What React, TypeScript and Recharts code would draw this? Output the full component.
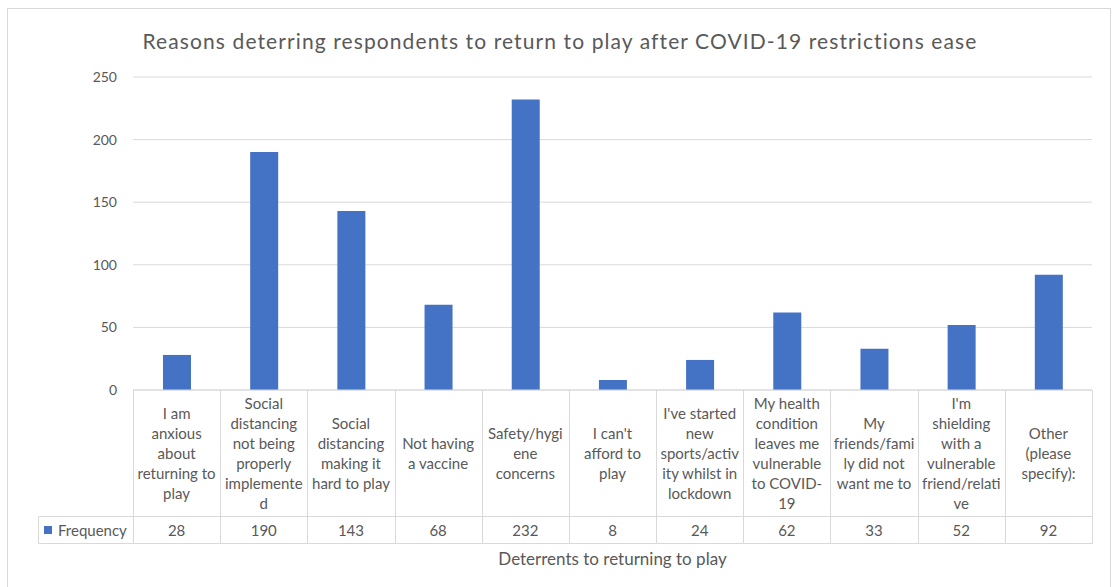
import React from "react";
import { BarChart, Bar, XAxis, YAxis, CartesianGrid, Customized } from "recharts";

const categories = [
  "I am anxious about returning to play",
  "Social distancing not being properly implemented",
  "Social distancing making it hard to play",
  "Not having a vaccine",
  "Safety/hygiene concerns",
  "I can't afford to play",
  "I've started new sports/activity whilst in lockdown",
  "My health condition leaves me vulnerable to COVID-19",
  "My friends/family did not want me to",
  "I'm shielding with a vulnerable friend/relative",
  "Other (please specify):",
];

const frequency = [28, 190, 143, 68, 232, 8, 24, 62, 33, 52, 92];

const labelLines = [
  ["I am", "anxious", "about", "returning to", "play"],
  ["Social", "distancing", "not being", "properly", "implemente", "d"],
  ["Social", "distancing", "making it", "hard to play"],
  ["Not having", "a vaccine"],
  ["Safety/hygi", "ene", "concerns"],
  ["I can't", "afford to", "play"],
  ["I've started", "new", "sports/activ", "ity whilst in", "lockdown"],
  ["My health", "condition", "leaves me", "vulnerable", "to COVID-", "19"],
  ["My", "friends/fami", "ly did not", "want me to"],
  ["I'm", "shielding", "with a", "vulnerable", "friend/relati", "ve"],
  ["Other", "(please", "specify):"],
];

const yTicks = [0, 50, 100, 150, 200, 250];

const seriesName = "Frequency";
const chartTitle = "Reasons deterring respondents to return to play after COVID-19 restrictions ease";
const xAxisTitle = "Deterrents to returning to play";

const data = categories.map((c, i) => ({ name: c, value: frequency[i] }));

const W = 1114;
const H = 587;
const PLOT_LEFT = 133;
const PLOT_RIGHT = 1092;
const PLOT_TOP = 77;
const PLOT_BOTTOM = 390;
const BAND = (PLOT_RIGHT - PLOT_LEFT) / categories.length;
const ROW_MID = 516.5;
const ROW_BOTTOM = 543.5;
const LEGEND_LEFT = 38.5;
const LINE = "#d9d9d9";
const TEXT = "#595959";
const FONT = "Lato, 'Open Sans', sans-serif";
const BLUE = "#4472c4";
const CELL_FS = 15;

const CategoryTick = (props: any) => {
  const { x, payload } = props;
  const i = payload.index;
  const left = Math.round(x - BAND / 2) + 0.5;
  const right = Math.round(x + BAND / 2) + 0.5;
  const lines = labelLines[i];
  const lh = 20;
  const cy = 453;
  const startY = cy - ((lines.length - 1) * lh) / 2;
  return (
    <g>
      <line x1={left} y1={PLOT_BOTTOM} x2={left} y2={ROW_BOTTOM} stroke={LINE} />
      {i === categories.length - 1 && (
        <line x1={right} y1={PLOT_BOTTOM} x2={right} y2={ROW_BOTTOM} stroke={LINE} />
      )}
      <line x1={left} y1={ROW_MID} x2={right} y2={ROW_MID} stroke={LINE} />
      <line x1={left} y1={ROW_BOTTOM} x2={right} y2={ROW_BOTTOM} stroke={LINE} />
      {lines.map((t, k) => (
        <text
          key={k}
          x={x}
          y={startY + k * lh}
          textAnchor="middle"
          dominantBaseline="central"
          fill={TEXT}
          fontSize={CELL_FS}
          fontFamily={FONT}
        >
          {t}
        </text>
      ))}
      <text
        x={x}
        y={530}
        textAnchor="middle"
        dominantBaseline="central"
        fill={TEXT}
        fontSize={CELL_FS}
        fontFamily={FONT}
      >
        {frequency[i]}
      </text>
      {i === 0 && (
        <g>
          <line x1={LEGEND_LEFT} y1={ROW_MID} x2={left} y2={ROW_MID} stroke={LINE} />
          <line x1={LEGEND_LEFT} y1={ROW_BOTTOM} x2={left} y2={ROW_BOTTOM} stroke={LINE} />
          <line x1={LEGEND_LEFT} y1={ROW_MID} x2={LEGEND_LEFT} y2={ROW_BOTTOM} stroke={LINE} />
          <rect x={44} y={526} width={8} height={8} fill={BLUE} />
          <text
            x={58}
            y={530}
            dominantBaseline="central"
            fill={TEXT}
            fontSize={CELL_FS}
            fontFamily={FONT}
          >
            {seriesName}
          </text>
        </g>
      )}
    </g>
  );
};

const Titles = () => (
  <g>
    <text
      x={560}
      y={40}
      textAnchor="middle"
      dominantBaseline="central"
      fill={TEXT}
      fontSize={21}
      letterSpacing={1.1}
      fontFamily={FONT}
    >
      {chartTitle}
    </text>
    <text
      x={(PLOT_LEFT + PLOT_RIGHT) / 2}
      y={558}
      textAnchor="middle"
      dominantBaseline="central"
      fill={TEXT}
      fontSize={17}
      fontFamily={FONT}
    >
      {xAxisTitle}
    </text>
  </g>
);

export default function App() {
  return (
    <div style={{ position: "absolute", left: 0, top: 0, width: W, height: H, background: "#fff", overflow: "hidden" }}>
      <div
        style={{
          position: "absolute",
          left: 7,
          top: 8,
          width: 1104,
          height: 620,
          border: `1px solid ${LINE}`,
          boxSizing: "border-box",
        }}
      />
      <div style={{ position: "absolute", left: 0, top: 0 }}>
        <BarChart
          width={W}
          height={H}
          data={data}
          margin={{ top: PLOT_TOP, right: W - PLOT_RIGHT, bottom: 0, left: 0 }}
        >
          <CartesianGrid vertical={false} stroke={LINE} />
          <YAxis
            width={PLOT_LEFT}
            domain={[0, 250]}
            ticks={yTicks}
            axisLine={false}
            tickLine={false}
            tickSize={0}
            tickMargin={16}
            tick={{ fill: TEXT, fontSize: 14, fontFamily: FONT }}
            interval={0}
          />
          <XAxis
            dataKey="name"
            height={H - PLOT_BOTTOM}
            interval={0}
            axisLine={{ stroke: LINE }}
            tickLine={false}
            tick={<CategoryTick />}
          />
          <Bar dataKey="value" fill={BLUE} barSize={28} isAnimationActive={false} />
          <Customized component={Titles} />
        </BarChart>
      </div>
    </div>
  );
}
